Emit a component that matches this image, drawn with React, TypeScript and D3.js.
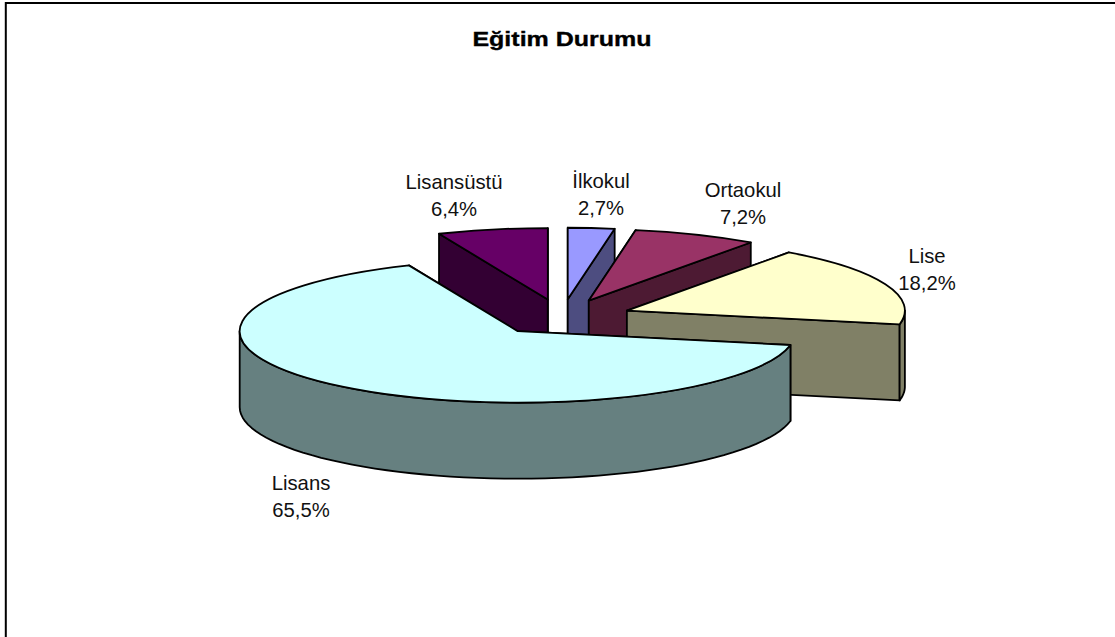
import React from 'react';
import * as d3 from 'd3';

const categories = ['İlkokul', 'Ortaokul', 'Lise', 'Lisans', 'Lisansüstü'];
const values = [2.7, 7.2, 18.2, 65.5, 6.4];
const percentLabels = ['2,7%', '7,2%', '18,2%', '65,5%', '6,4%'];
const topColors = ['#9999ff', '#993366', '#ffffcc', '#ccffff', '#660066'];
const sideColors = ['#4d4d80', '#4d1a33', '#808066', '#668080', '#330033'];
// label anchor points, same order as categories
const labelPos = [[601, 188], [743, 197], [927, 263], [301, 490], [454, 189]];
// back to front
const drawOrder = [4, 0, 1, 2, 3];

const width = 1115;
const height = 637;
const cx = 561.8;
const cy = 317.2;
const rx = 278;
const ry = 71.5;
const depth = 76;
const explode = 70;

const squash = ry / rx;
const pieData = d3.pie<number>().sort(null).startAngle(0).endAngle(2 * Math.PI)(values);
const arcGen = d3.arc<any>().innerRadius(0).outerRadius(rx);
const lineGen = d3.line<number[]>().curve(d3.curveLinearClosed);

export default function App() {
  const slices = drawOrder.map((i) => {
    const d = pieData[i];
    const mid = (d.startAngle + d.endAngle) / 2;
    const ax = cx + explode * Math.sin(mid);
    const ay = cy - explode * squash * Math.cos(mid);
    const pt = (a: number, dz = 0) => [
      ax + rx * Math.sin(a),
      ay - ry * Math.cos(a) + dz,
    ];
    const radial = (a: number) =>
      lineGen([[ax, ay], pt(a), pt(a, depth), [ax, ay + depth]]);

    // outer wall only shows on the front half of the ellipse
    const from = Math.max(d.startAngle, Math.PI / 2);
    const to = Math.min(d.endAngle, (3 * Math.PI) / 2);
    let outer: string | null = null;
    if (to > from) {
      const steps = d3.range(0, 61).map((k) => from + ((to - from) * k) / 60);
      outer = lineGen([
        ...steps.map((a) => pt(a)),
        ...steps.slice().reverse().map((a) => pt(a, depth)),
      ]);
    }
    return { i, d, ax, ay, radial, outer };
  });

  return (
    <svg
      width={width}
      height={height}
      style={{ position: 'absolute', left: 0, top: 0, background: '#fff' }}
      fontFamily="'Liberation Sans', Arial, sans-serif"
    >
      <path d={`M5.8,${height}V3H${width}`} fill="none" stroke="#000" strokeWidth={2} />
      {/* title is stretched sideways in the original */}
      <text
        transform="translate(562,46) scale(1.22,1)"
        textAnchor="middle"
        fontSize={20.5}
        fontWeight="bold"
        stroke="#000"
        strokeWidth={0.35}
      >
        Eğitim Durumu
      </text>

      {slices.map(({ i, d, ax, ay, radial, outer }) => (
        <g key={categories[i]} stroke="#000" strokeWidth={1.8} strokeLinejoin="round">
          <path d={radial(d.startAngle) as string} fill={sideColors[i]} />
          <path d={radial(d.endAngle) as string} fill={sideColors[i]} />
          {outer && <path d={outer} fill={sideColors[i]} />}
          <path
            d={arcGen({ startAngle: d.startAngle, endAngle: d.endAngle }) as string}
            transform={`translate(${ax},${ay}) scale(1,${squash})`}
            fill={topColors[i]}
            vectorEffect="non-scaling-stroke"
          />
        </g>
      ))}

      {categories.map((c, i) => (
        <text key={c} x={labelPos[i][0]} y={labelPos[i][1]} textAnchor="middle" fontSize={20.3} fill="#111">
          <tspan x={labelPos[i][0]}>{c}</tspan>
          <tspan x={labelPos[i][0]} dy={27}>{percentLabels[i]}</tspan>
        </text>
      ))}
    </svg>
  );
}
